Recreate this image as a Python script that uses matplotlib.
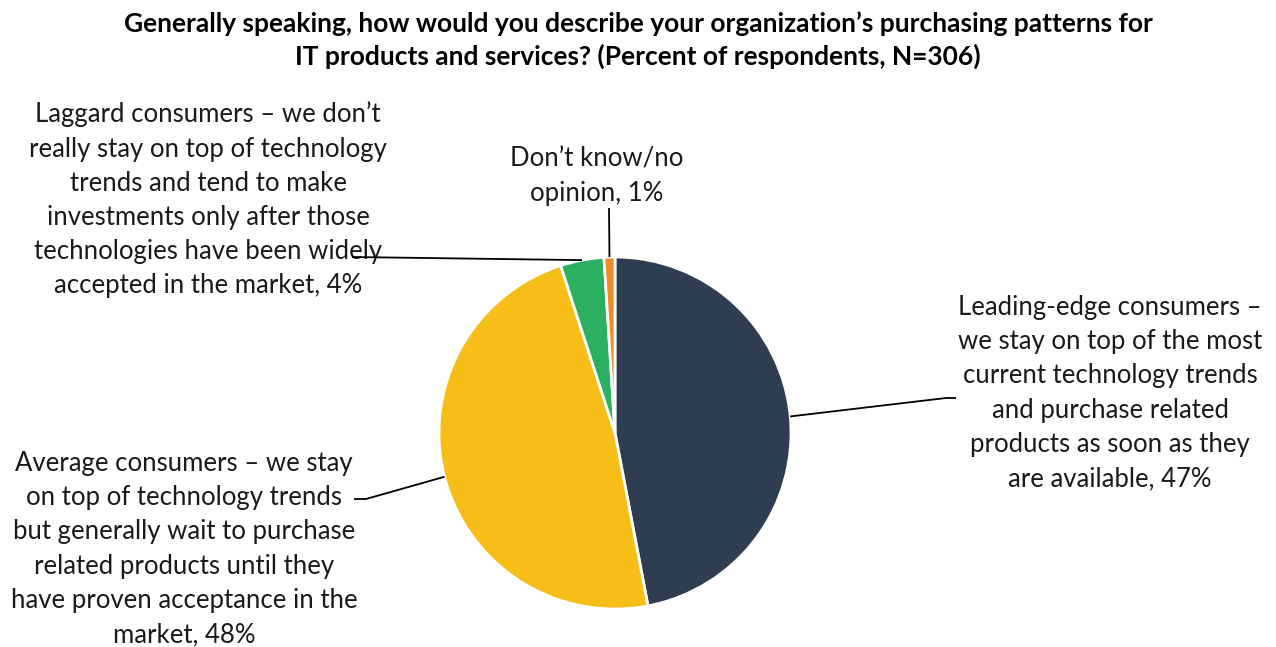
import numpy as np
import matplotlib
matplotlib.use("Agg")
import matplotlib.pyplot as plt

categories = [
    "Leading-edge consumers –\nwe stay on top of the most\ncurrent technology trends\nand purchase related\nproducts as soon as they\nare available",
    "Average consumers – we stay\non top of technology trends\nbut generally wait to purchase\nrelated products until they\nhave proven acceptance in the\nmarket",
    "Laggard consumers – we don’t\nreally stay on top of technology\ntrends and tend to make\ninvestments only after those\ntechnologies have been widely\naccepted in the market",
    "Don’t know/no\nopinion",
]
values = [47, 48, 4, 1]
colors = ["#2E3E50", "#F6BE17", "#2BB062", "#EE8A27"]
title = ("Generally speaking, how would you describe your organization’s purchasing patterns for\n"
         "IT products and services? (Percent of respondents, N=306)")

W, H = 1276, 647
fig = plt.figure(figsize=(W / 100, H / 100), dpi=100)
ax = fig.add_axes([0, 0, 1, 1])
ax.set_xlim(0, W)
ax.set_ylim(0, H)
ax.set_aspect("equal")
ax.axis("off")

FONT = "Lato"
cx, cy, R = 615, H - 433, 176
wedges, _ = ax.pie(values, colors=colors, startangle=90, counterclock=False,
                   center=(cx, cy), radius=R,
                   wedgeprops=dict(edgecolor="white", linewidth=2))
ax.set_xlim(0, W)
ax.set_ylim(0, H)

# label text positions (px, from top) and leader elbow points
text_pos = [(1110, 393), (184, 549), (208, 200), (597, 176)]
leaders = [
    [(946, 398), (956, 398)],
    [(366, 499), (354, 499)],
    [(352, 257)],
    [(609, 208)],
]

for w, cat, v, (tx, ty), pts in zip(wedges, categories, values, text_pos, leaders):
    ang = np.deg2rad((w.theta1 + w.theta2) / 2)
    ax_ = cx + R * np.cos(ang)
    ay_ = cy + R * np.sin(ang)
    xs = [ax_] + [p[0] for p in pts]
    ys = [ay_] + [H - p[1] for p in pts]
    ax.plot(xs, ys, color="black", lw=1.3, solid_capstyle="butt", zorder=3)
    ax.text(tx, H - ty, f"{cat}, {v}%", ha="center", va="center",
            multialignment="center", fontsize=18.5, family=FONT,
            linespacing=1.46, color="#1a1a1a", zorder=2)

ax.text(638, H - 40, title, ha="center", va="center", multialignment="center",
        fontsize=19, fontweight="bold", family=FONT, linespacing=1.34,
        color="black")

fig.savefig("out.png", dpi=100)
